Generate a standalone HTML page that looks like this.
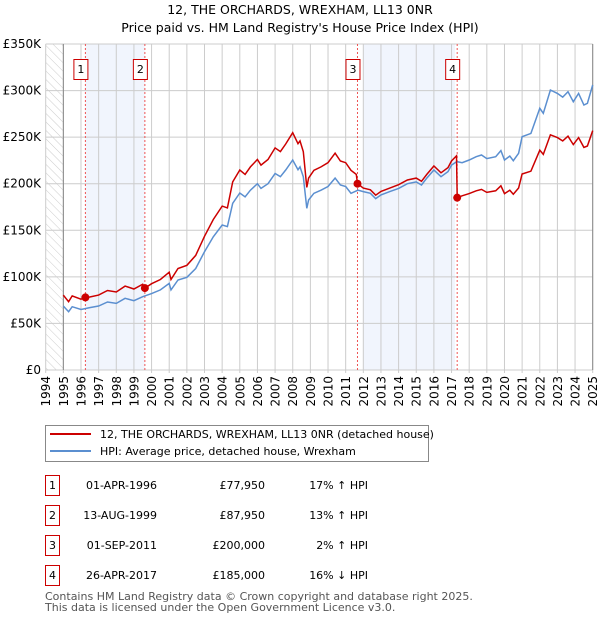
<!DOCTYPE html>
<html><head><meta charset="utf-8">
<style>
body{margin:0;background:#fff;font-family:"DejaVu Sans","Liberation Sans",sans-serif;}
svg text{font-family:"DejaVu Sans","Liberation Sans",sans-serif;}
</style></head>
<body>
<svg id="chart" width="600" height="620" xmlns="http://www.w3.org/2000/svg">
<defs>
<pattern id="hatch" width="6" height="6" patternUnits="userSpaceOnUse" patternTransform="rotate(-45)">
<line x1="0" y1="0" x2="0" y2="6" stroke="#ccc" stroke-width="1"/></pattern>
</defs>
<text x="300" y="14" text-anchor="middle" font-size="12.5">12, THE ORCHARDS, WREXHAM, LL13 0NR</text>
<text x="300" y="32" text-anchor="middle" font-size="12.5">Price paid vs. HM Land Registry's House Price Index (HPI)</text>
<g id="plot"></g>
<g>
<rect x="45.5" y="425.5" width="383" height="36" fill="#fff" stroke="#888"/>
<line x1="50" y1="434" x2="91" y2="434" stroke="#cc0000" stroke-width="2"/>
<text x="100" y="438" font-size="11">12, THE ORCHARDS, WREXHAM, LL13 0NR (detached house)</text>
<line x1="50" y1="451" x2="91" y2="451" stroke="#5b8fd0" stroke-width="2"/>
<text x="100" y="455" font-size="11">HPI: Average price, detached house, Wrexham</text>
</g>
<g id="table" font-size="11"></g>
<text x="45" y="600" font-size="11" fill="#555">Contains HM Land Registry data © Crown copyright and database right 2025.</text>
<text x="45" y="611" font-size="11" fill="#555">This data is licensed under the Open Government Licence v3.0.</text>
</svg>
<script>
const hpiYears=[1995.0,1995.3,1995.5,1996.0,1996.5,1997.0,1997.5,1998.0,1998.5,1999.0,1999.5,2000.0,2000.5,2001.0,2001.1,2001.5,2002.0,2002.5,2003.0,2003.5,2004.0,2004.3,2004.6,2005.0,2005.3,2005.6,2006.0,2006.2,2006.6,2007.0,2007.3,2007.6,2008.0,2008.3,2008.41,2008.6,2008.8,2008.9,2009.2,2009.6,2010.0,2010.4,2010.7,2011.0,2011.3,2011.7,2012.0,2012.4,2012.7,2013.0,2013.5,2014.0,2014.5,2015.0,2015.3,2015.6,2016.0,2016.4,2016.8,2017.0,2017.3,2017.6,2018.0,2018.4,2018.7,2019.0,2019.5,2019.8,2020.0,2020.3,2020.5,2020.8,2021.0,2021.5,2022.0,2022.2,2022.6,2023.0,2023.3,2023.6,2023.9,2024.2,2024.5,2024.7,2025.0];
const hpiValues=[68.7,62.6,68,65,67,68.7,73,71.5,77,74.4,78.7,82,86,93,86,96.6,99.5,109,127,143,155.7,154,179,190,186,193,200,195,200,211,207.5,214.7,225.5,215,218,207.5,173.6,182.5,189.7,193,197,206,198.6,197,189.7,193,191.5,189.7,184,188,191.5,195,200,202,198.6,206,214.7,207.5,213,220,223.7,222.6,225.5,229,230.8,227,229,235.5,225.5,229.7,224.7,232.6,250.5,254,281,275.6,300.6,297,293,298.8,288,297,284.5,286.3,306];
const priceYears=[1995.0,1995.3,1995.5,1996.0,1996.25,1996.5,1997.0,1997.5,1998.0,1998.5,1999.0,1999.5,1999.62,2000.0,2000.5,2001.0,2001.1,2001.5,2002.0,2002.5,2003.0,2003.5,2004.0,2004.3,2004.6,2005.0,2005.3,2005.6,2006.0,2006.2,2006.6,2007.0,2007.3,2007.6,2008.0,2008.3,2008.41,2008.6,2008.8,2008.9,2009.2,2009.6,2010.0,2010.4,2010.7,2011.0,2011.3,2011.6,2011.67,2012.0,2012.4,2012.7,2013.0,2013.5,2014.0,2014.5,2015.0,2015.3,2015.6,2016.0,2016.4,2016.8,2017.0,2017.28,2017.32,2017.6,2018.0,2018.4,2018.7,2019.0,2019.5,2019.8,2020.0,2020.3,2020.5,2020.8,2021.0,2021.5,2022.0,2022.2,2022.6,2023.0,2023.3,2023.6,2023.9,2024.2,2024.5,2024.7,2025.0];
const priceValues=[80.4,73.3,79.6,76,77.95,78.4,80.4,85.4,83.7,90.1,87,92.1,87.95,92.7,97.2,105,97.2,109,112.4,123,143.5,161.6,176,174,202,214.7,210,218,226,220,226,238.4,234.5,242.6,254.8,243,246,234.5,196,206,214.4,218,222.6,232.8,224.4,222.6,214.4,210,200,195.3,193.5,187.7,191.8,195.3,198.9,204,206,202.6,210,219,211.7,217.3,224.4,230,185,187,189.4,192.4,193.9,190.7,192.4,197.8,189.4,193,188.7,195.4,210.4,213.4,236,231.5,252.5,249.5,246,251,242,249.5,239,240.5,257];
const saleYears=[1996.25,1999.62,2011.67,2017.32];
const saleValues=[77.95,87.95,200,185];
const saleLabels=["1","2","3","4"];
const saleDates=["01-APR-1996","13-AUG-1999","01-SEP-2011","26-APR-2017"];
const salePrices=["£77,950","£87,950","£200,000","£185,000"];
const saleDiffs=["17% ↑ HPI","13% ↑ HPI","2% ↑ HPI","16% ↓ HPI"];
const yTicks=[0,50,100,150,200,250,300,350];
const yTickLabels=["£0","£50K","£100K","£150K","£200K","£250K","£300K","£350K"];
const xTicks=[1994,1995,1996,1997,1998,1999,2000,2001,2002,2003,2004,2005,2006,2007,2008,2009,2010,2011,2012,2013,2014,2015,2016,2017,2018,2019,2020,2021,2022,2023,2024,2025];

const NS="http://www.w3.org/2000/svg";
const X0=45.7,X1=592.7,Y0=370,Y1=44;
const xs=y=>X0+(y-1994)*(X1-X0)/31;
const ys=v=>Y0-v*(Y0-Y1)/350;
const plot=document.getElementById('plot');
function mk(tag,attrs,parent){const e=document.createElementNS(NS,tag);for(const k in attrs)e.setAttribute(k,attrs[k]);(parent||plot).appendChild(e);return e;}

let r=mk('rect',{x:X0,y:Y1,width:xs(1995)-X0,height:Y0-Y1,fill:'url(#hatch)'});


r=mk('rect',{x:xs(saleYears[0]),y:Y1,width:xs(saleYears[1])-xs(saleYears[0]),height:Y0-Y1,fill:'#eef3fc',opacity:0.8});


r=mk('rect',{x:xs(2011.98),y:Y1,width:xs(2017.2)-xs(2011.98),height:Y0-Y1,fill:'#eef3fc',opacity:0.8});



yTicks.forEach((t,i)=>{
 const l=mk('line',{x1:X0,x2:X1,y1:ys(t),y2:ys(t),stroke:'#ccc'});
 
 
 const tx=mk('text',{x:41,y:ys(t)+4,'text-anchor':'end','font-size':12});
 tx.textContent=yTickLabels[i];
 
 
});
xTicks.forEach(t=>{
 const l=mk('line',{x1:xs(t),x2:xs(t),y1:Y1,y2:Y0+3,stroke:'#ccc'});
 
 
 const tx=mk('text',{x:0,y:0,'text-anchor':'end','font-size':12,transform:`translate(${xs(t)+4.5},376) rotate(-90)`});
 tx.textContent=t;
 
 
});
let ax=mk('line',{x1:xs(1995),x2:xs(1995),y1:Y1,y2:Y0,stroke:'#888'});


ax=mk('line',{x1:X1,x2:X1,y1:Y1,y2:Y0,stroke:'#888'});



saleYears.forEach((y,i)=>{
 const l=mk('line',{x1:xs(y),x2:xs(y),y1:Y1,y2:Y0,stroke:'#e55','stroke-dasharray':'2,2','stroke-width':1});
 
 
});
function line(xa,va,color,name){
 const d=xa.map((y,i)=>(i?'L':'M')+xs(y).toFixed(1)+','+ys(va[i]).toFixed(1)).join('');
 const p=mk('path',{d:d,fill:'none',stroke:color,'stroke-width':1.5});
 
 
}
line(hpiYears,hpiValues,'#5b8fd0','hpi-line');
line(priceYears,priceValues,'#cc0000','price-line');
saleYears.forEach((y,i)=>{
 const c=mk('circle',{cx:xs(y),cy:ys(saleValues[i]),r:4,fill:'#cc0000'});
 
 
 const g=mk('g',{});
 
 
 mk('rect',{x:xs(y)-11.5,y:59.5,width:14,height:20,fill:'#fff',stroke:'#cc0000'},g);
 const t=mk('text',{x:xs(y)-4.5,y:73,'text-anchor':'middle','font-size':11},g);
 t.textContent=saleLabels[i];
});
const tb=document.getElementById('table');
saleLabels.forEach((s,i)=>{
 const y=475+i*30;
 const g=mk('g',{},tb);
 
 
 mk('rect',{x:45.5,y:y+0.5,width:14,height:20,fill:'#fff',stroke:'#cc0000'},g);
 let t=mk('text',{x:52.5,y:y+14,'text-anchor':'middle'},g);t.textContent=s;
 t=mk('text',{x:157,y:y+14,'text-anchor':'end'},g);t.textContent=saleDates[i];
 t=mk('text',{x:265,y:y+14,'text-anchor':'end'},g);t.textContent=salePrices[i];
 t=mk('text',{x:368,y:y+14,'text-anchor':'end'},g);t.textContent=saleDiffs[i];
});
</script>
</body></html>
